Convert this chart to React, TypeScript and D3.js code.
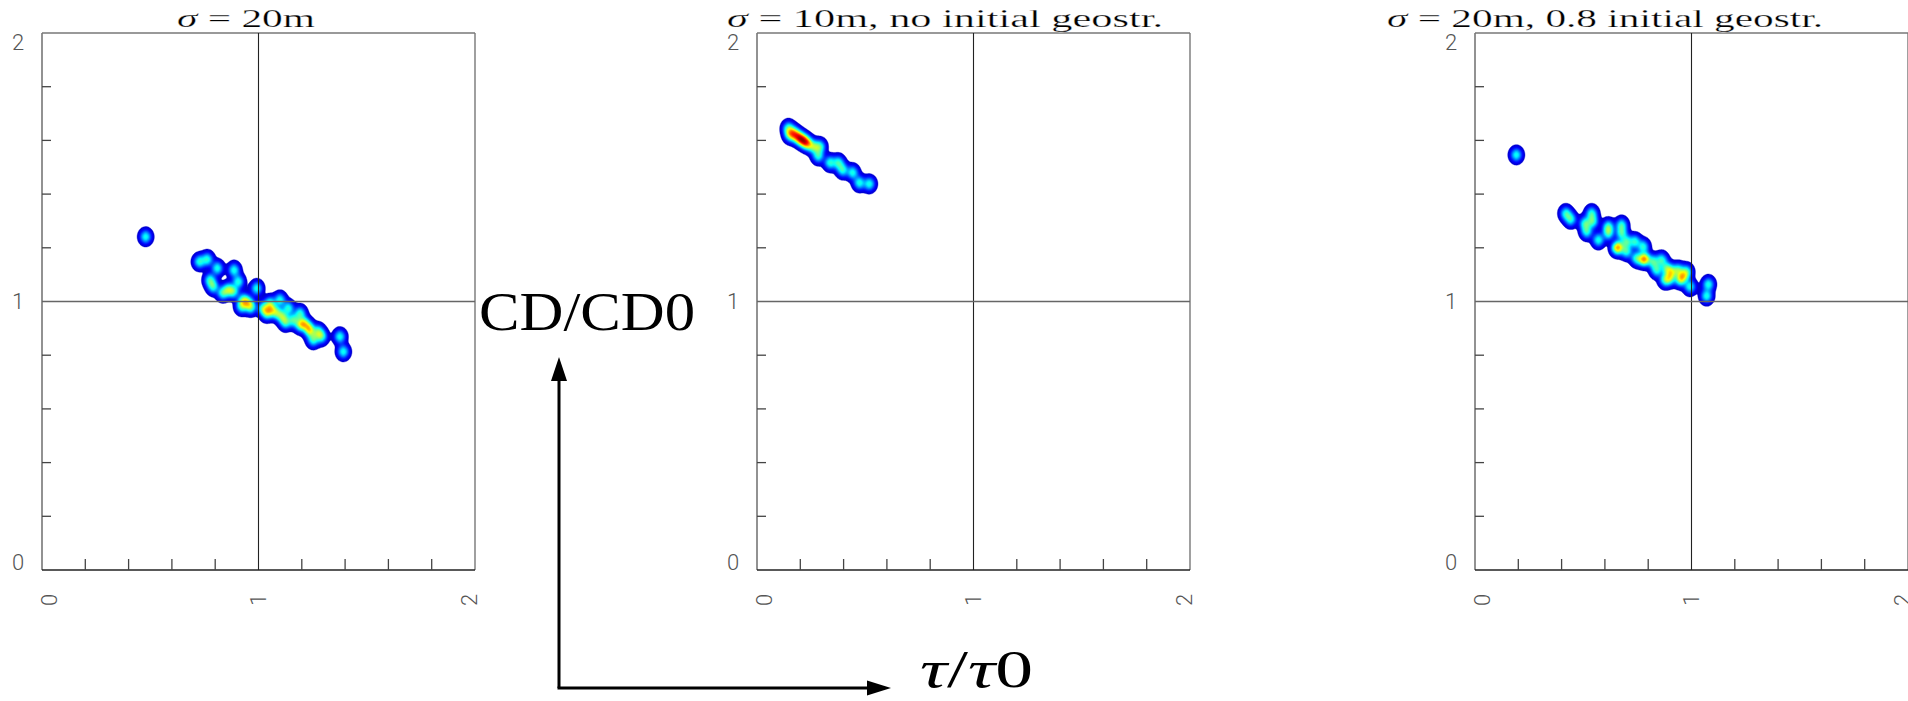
import React, { useMemo } from "react";
import * as d3 from "d3";

// ---------- data ----------
const TICK_VALUES = [0, 0.2, 0.4, 0.6, 0.8, 1, 1.2, 1.4, 1.6, 1.8, 2];
const LABEL_VALUES = [0, 1, 2];
const LABEL_TEXT = ["0", "1", "2"];
const TITLE_SYMBOL = "σ";
const TITLE_REST = [" = 20m", " = 10m, no initial geostr.", " = 20m, 0.8 initial geostr."];
const Y_AXIS_TITLE = "CD/CD0";
const X_AXIS_SYMBOL = "τ";

// points: [tau/tau0, CD/CD0]
const PANEL1: [number, number][] = [
  [0.479, 1.241],
  [0.727, 1.148], [0.764, 1.157], [0.81, 1.124], [0.887, 1.117],
  [0.776, 1.08], [0.791, 1.055], [0.835, 1.031], [0.907, 1.074], [0.884, 1.037],
  [0.86, 1.045], [0.93, 1.006], [0.952, 0.996], [0.992, 1.049],
  [0.922, 0.981], [0.965, 0.978], [1.022, 0.975], [1.038, 0.956], [1.053, 0.993],
  [1.06, 0.968], [1.099, 1.006], [1.085, 0.958], [1.11, 0.944],
  [1.138, 0.975], [1.125, 0.922], [1.161, 0.931],
  [1.192, 0.956], [1.192, 0.912], [1.21, 0.92], [1.23, 0.905], [1.238, 0.888],
  [1.276, 0.888], [1.292, 0.869], [1.253, 0.857],
  [1.376, 0.869], [1.392, 0.813],
];
const PANEL2: [number, number][] = [
  [0.145, 1.645], [0.152, 1.62], [0.17, 1.628],
  [0.185, 1.615], [0.198, 1.608], [0.211, 1.601], [0.224, 1.594], [0.237, 1.587],
  [0.262, 1.575], [0.291, 1.577], [0.283, 1.542], [0.337, 1.517],
  [0.376, 1.517], [0.396, 1.49], [0.442, 1.48], [0.473, 1.442], [0.519, 1.438],
];
const PANEL3: [number, number][] = [
  [0.191, 1.546],
  [0.42, 1.328], [0.442, 1.306], [0.539, 1.328], [0.544, 1.297], [0.508, 1.291],
  [0.516, 1.26], [0.57, 1.229], [0.616, 1.254], [0.616, 1.279], [0.677, 1.285],
  [0.677, 1.254], [0.654, 1.198], [0.664, 1.203], [0.7, 1.223], [0.739, 1.223],
  [0.7, 1.186], [0.777, 1.204], [0.777, 1.155], [0.787, 1.16], [0.746, 1.161],
  [0.823, 1.148], [0.862, 1.155], [0.839, 1.117], [0.885, 1.124], [0.908, 1.111],
  [0.901, 1.086], [0.878, 1.08], [0.939, 1.117], [0.978, 1.111], [0.947, 1.08],
  [0.993, 1.055], [0.962, 1.092], [1.078, 1.064], [1.07, 1.02],
];
const PANELS = [PANEL1, PANEL2, PANEL3];

// ---------- layout ----------
const W = 1908;
const H = 701;
const PANEL_LEFT = [42, 757, 1475];
const PANEL_W = 433;
const TOP = 33;
const BOTTOM = 570;
const TITLE_X = [177, 727, 1387];
const TITLE_W = [138, 436, 436];

const SIGMA_X = 3.6;
const SIGMA_Y = 4.3;
const LEVELS = d3.range(0.06, 3.2, 0.05);

function colorValue(d: number) {
  return 0.06 + 0.34 * d;
}

function jet(v: number) {
  const c = (x: number) => Math.max(0, Math.min(1, x));
  const r = c(1.5 - Math.abs(4 * v - 3));
  const g = c(1.5 - Math.abs(4 * v - 2));
  const b = c(1.5 - Math.abs(4 * v - 1));
  return d3.rgb(r * 255, g * 255, b * 255).formatHex();
}

function densityContours(points: [number, number][], x: d3.ScaleLinear<number, number>, y: d3.ScaleLinear<number, number>) {
  const px = points.map((p) => [x(p[0]), y(p[1])]);
  const pad = 30;
  const x0 = Math.floor(d3.min(px, (d) => d[0])! - pad);
  const x1 = Math.ceil(d3.max(px, (d) => d[0])! + pad);
  const y0 = Math.floor(d3.min(px, (d) => d[1])! - pad);
  const y1 = Math.ceil(d3.max(px, (d) => d[1])! + pad);
  const gw = x1 - x0;
  const gh = y1 - y0;
  const grid = new Float64Array(gw * gh);
  for (const [cx, cy] of px) {
    const lx = cx - x0;
    const ly = cy - y0;
    for (let j = Math.max(0, Math.floor(ly - 5 * SIGMA_Y)); j < Math.min(gh, Math.ceil(ly + 5 * SIGMA_Y)); j++) {
      const dy = (j + 0.5 - ly) / SIGMA_Y;
      for (let i = Math.max(0, Math.floor(lx - 5 * SIGMA_X)); i < Math.min(gw, Math.ceil(lx + 5 * SIGMA_X)); i++) {
        const dx = (i + 0.5 - lx) / SIGMA_X;
        grid[j * gw + i] += Math.exp(-0.5 * (dx * dx + dy * dy));
      }
    }
  }
  const contours = d3.contours().size([gw, gh]).thresholds(LEVELS)(Array.from(grid));
  const path = d3.geoPath();
  return contours
    .filter((c) => c.coordinates.length > 0)
    .map((c) => ({ d: path(c) || "", value: c.value, ox: x0, oy: y0 }));
}

function Panel({ index }: { index: number }) {
  const left = PANEL_LEFT[index];
  const right = left + PANEL_W;
  const x = d3.scaleLinear().domain([0, 2]).range([left, right]);
  const y = d3.scaleLinear().domain([0, 2]).range([BOTTOM, TOP]);
  const blobs = useMemo(() => densityContours(PANELS[index], x, y), [index]);
  const labelFont = { fontFamily: "Roboto, 'DejaVu Sans', sans-serif", fontWeight: 300, fontSize: 22, fill: "#555" };
  return (
    <g>
      {/* density blobs */}
      {blobs.map((b, i) => (
        <path
          key={i}
          d={b.d}
          transform={`translate(${b.ox},${b.oy})`}
          fill={jet(colorValue(b.value))}
          stroke={jet(colorValue(b.value))}
          strokeWidth={0.4}
        />
      ))}
      {/* frame */}
      <line x1={left} x2={right} y1={TOP} y2={TOP} stroke="#777" strokeWidth={1.4} />
      <line x1={left} x2={left} y1={TOP} y2={BOTTOM} stroke="#777" strokeWidth={1.6} />
      <line x1={right} x2={right} y1={TOP} y2={BOTTOM} stroke="#777" strokeWidth={1.4} />
      <line x1={left} x2={right} y1={BOTTOM} y2={BOTTOM} stroke="#222" strokeWidth={1.5} />
      {/* cross lines at 1 */}
      <line x1={x(1)} x2={x(1)} y1={TOP} y2={BOTTOM} stroke="#222" strokeWidth={1.1} />
      <line x1={left} x2={right} y1={y(1)} y2={y(1)} stroke="#666" strokeWidth={1.5} />
      {/* ticks */}
      {TICK_VALUES.filter((v) => v > 0 && v < 2 && v !== 1).map((v) => (
        <g key={"t" + v}>
          <line x1={left} x2={left + 9} y1={y(v)} y2={y(v)} stroke="#444" strokeWidth={1.3} />
          <line x1={x(v)} x2={x(v)} y1={BOTTOM} y2={BOTTOM - 11} stroke="#444" strokeWidth={1.3} />
        </g>
      ))}
      {/* tick labels */}
      {LABEL_VALUES.map((v, i) => {
        const inwardY = v === 0 ? -8 : v === 2 ? 9 : 0;
        const inwardX = v === 0 ? 7 : v === 2 ? -6 : 0;
        return (
          <g key={"l" + v}>
            <text x={left - 24} y={y(v) + inwardY} dy="0.36em" textAnchor="middle" {...labelFont}>
              {LABEL_TEXT[i]}
            </text>
            <text
              transform={`translate(${x(v) + inwardX},${BOTTOM + 30}) rotate(-90)`}
              dy="0.36em"
              textAnchor="middle"
              {...labelFont}
            >
              {LABEL_TEXT[i]}
            </text>
          </g>
        );
      })}
      {/* title */}
      <text
        x={TITLE_X[index]}
        y={27}
        textLength={TITLE_W[index]}
        lengthAdjust="spacingAndGlyphs"
        fontFamily="'Liberation Serif', 'DejaVu Serif', serif"
        fontSize={25}
        fill="#000"
        stroke="#fff"
        strokeWidth={0.25}
      >
        <tspan fontStyle="italic">{TITLE_SYMBOL}</tspan>
        {TITLE_REST[index]}
      </text>
    </g>
  );
}

export default function App() {
  const ax = 559;
  const ay = 688;
  return (
    <svg width={W} height={H} style={{ position: "absolute", left: 0, top: 0, background: "#fff" }}>
      <rect x={0} y={0} width={W} height={H} fill="#fff" />
      {[0, 1, 2].map((i) => (
        <Panel key={i} index={i} />
      ))}
      {/* axis explanation arrows */}
      <line x1={ax} y1={ay} x2={ax} y2={378} stroke="#000" strokeWidth={3} />
      <polygon points={`${ax},357 ${ax - 8},381 ${ax + 8},381`} fill="#000" />
      <line x1={ax - 1.5} y1={ay} x2={870} y2={ay} stroke="#000" strokeWidth={3} />
      <polygon points={`891,${ay} 867,${ay - 7.5} 867,${ay + 7.5}`} fill="#000" />
      <text
        x={479}
        y={330}
        textLength={216}
        lengthAdjust="spacingAndGlyphs"
        fontFamily="'Liberation Serif', 'DejaVu Serif', serif"
        fontSize={55}
        fill="#000"
      >
        {Y_AXIS_TITLE}
      </text>
      <text
        x={920}
        y={687}
        textLength={113}
        lengthAdjust="spacingAndGlyphs"
        fontFamily="'Liberation Serif', 'DejaVu Serif', serif"
        fontSize={52}
        fill="#000"
      >
        <tspan fontStyle="italic">{X_AXIS_SYMBOL}</tspan>/<tspan fontStyle="italic">{X_AXIS_SYMBOL}</tspan>0
      </text>
    </svg>
  );
}
